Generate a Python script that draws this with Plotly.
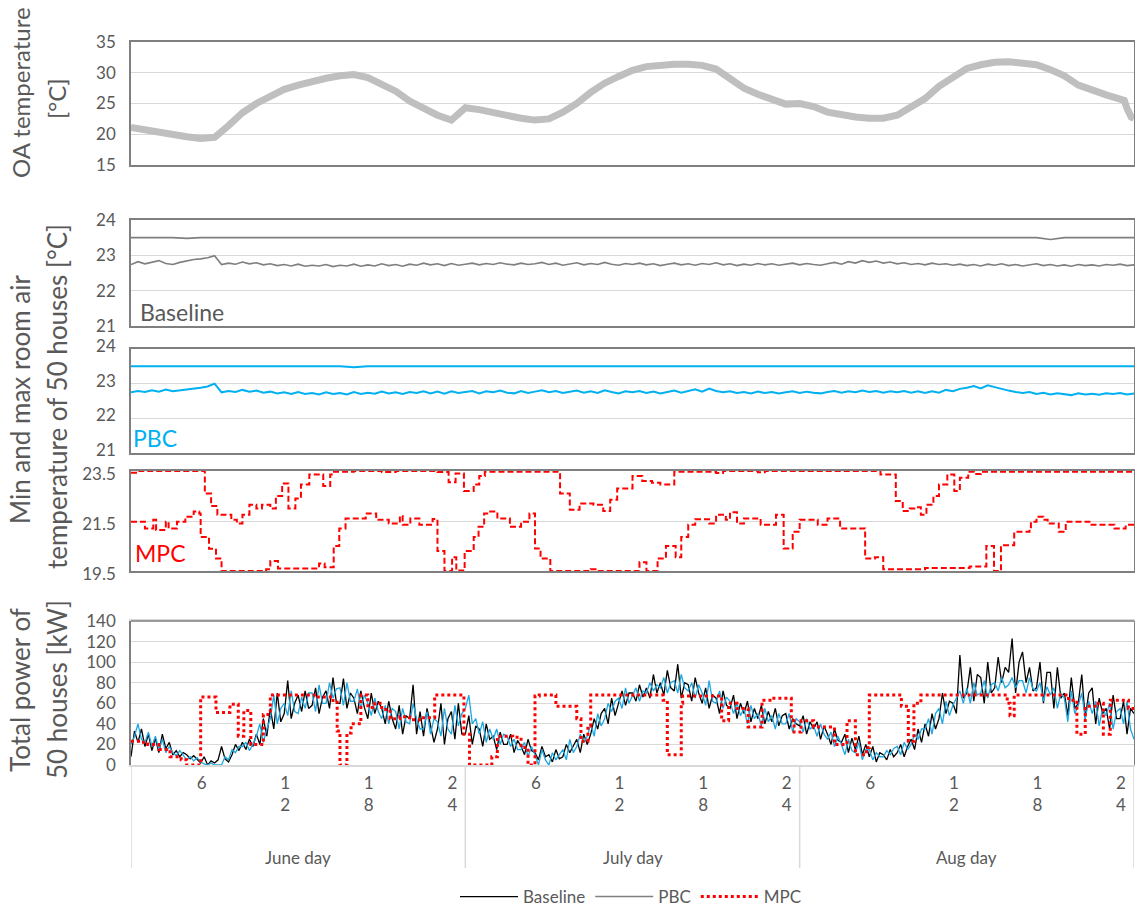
import plotly.graph_objects as go
from plotly.subplots import make_subplots

# ---------------- data ----------------
# Outdoor-air temperature (hours 0..71 + end points)
oa_hours = list(range(72)) + [71.3, 71.5, 71.8, 72]
oa_temp = [21.1, 20.7, 20.2, 19.9, 19.6, 19.3, 19.5, 21.4, 23.5, 25.0,
           26.3, 27.3, 28.0, 28.6, 29.1, 29.5, 29.7, 29.2, 28.2, 27.0,
           25.4, 24.2, 23.1, 22.3, 24.3, 24.0, 23.5, 23.0, 22.6, 22.3,
           22.5, 23.6, 25.0, 26.8, 28.3, 29.4, 30.4, 31.0, 31.3, 31.4,
           31.4, 31.2, 30.6, 29.2, 27.5, 26.5, 25.6, 24.9, 25.0, 24.5,
           23.6, 23.1, 22.8, 22.6, 22.6, 23.1, 24.3, 25.8, 27.8, 29.4,
           30.7, 31.3, 31.7, 31.8, 31.6, 31.3, 30.5, 29.5, 28.0, 27.1,
           26.4, 25.7, 25.5, 24.2, 22.8, 22.6]

hours_hourly = list(range(73))
hours_half = [i / 2 for i in range(145)]
hours_quarter = [i / 4 for i in range(289)]

base_max = [23.50, 23.49, 23.50, 23.50, 23.48, 23.50, 23.50, 23.50, 23.49, 23.50, 23.50, 23.50, 23.50, 23.49, 23.50, 23.50, 23.50, 23.50, 23.48, 23.50,
            23.50, 23.50, 23.49, 23.50, 23.50, 23.50, 23.50, 23.50, 23.49, 23.50, 23.50, 23.50, 23.50, 23.50, 23.48, 23.50, 23.50, 23.50, 23.50, 23.49,
            23.50, 23.50, 23.50, 23.50, 23.50, 23.49, 23.50, 23.50, 23.50, 23.50, 23.50, 23.48, 23.50, 23.50, 23.50, 23.49, 23.50, 23.50, 23.50, 23.50,
            23.50, 23.50, 23.50, 23.49, 23.50, 23.50, 23.45, 23.50, 23.50, 23.49, 23.50, 23.50, 23.50]
base_min = [22.74, 22.82, 22.76, 22.80, 22.85, 22.77, 22.74, 22.80, 22.85, 22.88, 22.90, 22.93, 22.99, 22.74, 22.78, 22.75, 22.81, 22.76, 22.79, 22.73,
            22.76, 22.71, 22.74, 22.70, 22.75, 22.69, 22.72, 22.70, 22.74, 22.68, 22.72, 22.70, 22.75, 22.69, 22.73, 22.70, 22.76, 22.71, 22.74, 22.69,
            22.75, 22.72, 22.78, 22.73, 22.76, 22.71, 22.77, 22.72, 22.75, 22.78, 22.73, 22.77, 22.74, 22.79, 22.75, 22.73, 22.78, 22.74, 22.76, 22.80,
            22.74, 22.78, 22.72, 22.76, 22.79, 22.73, 22.77, 22.74, 22.80, 22.75, 22.72, 22.77, 22.74, 22.78, 22.73, 22.76, 22.71, 22.75, 22.78, 22.73,
            22.76, 22.72, 22.77, 22.74, 22.79, 22.73, 22.76, 22.71, 22.75, 22.72, 22.77, 22.73, 22.76, 22.72, 22.75, 22.78, 22.73, 22.77, 22.74, 22.72,
            22.76, 22.80, 22.75, 22.82, 22.78, 22.85, 22.80, 22.84, 22.78, 22.81, 22.76, 22.79, 22.74, 22.77, 22.73, 22.78, 22.74, 22.76, 22.72, 22.75,
            22.71, 22.74, 22.70, 22.75, 22.72, 22.76, 22.71, 22.74, 22.70, 22.73, 22.76, 22.71, 22.74, 22.70, 22.73, 22.69, 22.74, 22.71, 22.73, 22.70,
            22.74, 22.72, 22.75, 22.71, 22.73]

pbc_max = [23.50, 23.50, 23.49, 23.50, 23.50, 23.50, 23.50, 23.50, 23.48, 23.50, 23.50, 23.49, 23.50, 23.50, 23.50, 23.50, 23.47, 23.50, 23.50, 23.50,
           23.50, 23.49, 23.50, 23.50, 23.50, 23.50, 23.50, 23.48, 23.50, 23.50, 23.50, 23.50, 23.49, 23.50, 23.50, 23.50, 23.50, 23.50, 23.50, 23.49,
           23.50, 23.50, 23.48, 23.50, 23.50, 23.50, 23.50, 23.50, 23.49, 23.50, 23.50, 23.50, 23.50, 23.50, 23.50, 23.48, 23.50, 23.50, 23.50, 23.49,
           23.50, 23.50, 23.50, 23.50, 23.50, 23.49, 23.50, 23.50, 23.50, 23.50, 23.48, 23.50, 23.50]
pbc_min = [22.75, 22.79, 22.76, 22.81, 22.77, 22.83, 22.78, 22.80, 22.84, 22.86, 22.88, 22.92, 23.00, 22.75, 22.79, 22.76, 22.82, 22.77, 22.80, 22.74,
           22.77, 22.72, 22.75, 22.70, 22.76, 22.70, 22.73, 22.69, 22.75, 22.70, 22.73, 22.69, 22.76, 22.70, 22.74, 22.71, 22.77, 22.72, 22.75, 22.70,
           22.76, 22.73, 22.78, 22.72, 22.77, 22.71, 22.78, 22.73, 22.75, 22.79, 22.72, 22.78, 22.75, 22.80, 22.74, 22.72, 22.79, 22.73, 22.77, 22.81,
           22.75, 22.79, 22.73, 22.77, 22.80, 22.74, 22.78, 22.73, 22.81, 22.76, 22.72, 22.78, 22.75, 22.79, 22.73, 22.77, 22.72, 22.76, 22.80, 22.74,
           22.78, 22.84, 22.77, 22.86, 22.79, 22.75, 22.78, 22.73, 22.76, 22.72, 22.77, 22.73, 22.76, 22.72, 22.75, 22.78, 22.73, 22.77, 22.74, 22.72,
           22.76, 22.79, 22.74, 22.78, 22.75, 22.80, 22.76, 22.79, 22.74, 22.78, 22.75, 22.79, 22.74, 22.78, 22.73, 22.78, 22.74, 22.82, 22.78, 22.85,
           22.88, 22.93, 22.86, 22.95, 22.90, 22.84, 22.80, 22.76, 22.73, 22.76, 22.70, 22.74, 22.69, 22.72, 22.70, 22.67, 22.72, 22.69, 22.71, 22.68,
           22.72, 22.70, 22.73, 22.69, 22.72]

# MPC room temperature (step change points)
mpc_max_hours = [0, 0.6, 5.3, 5.75, 6.2, 7.2, 7.6, 8.0, 8.5, 9.0, 9.4, 10.0, 10.4, 10.85, 11.3, 11.8, 12.2, 12.8, 13.8, 14.3,
                 14.5, 16.0, 18.0, 19.0, 22.0, 22.8, 23.3, 23.9, 24.6, 25.0, 25.4, 30.8, 31.5, 32.2, 33.2, 33.9, 34.4, 34.9, 36.0, 36.7,
                 37.4, 38.0, 39.0, 42.0, 42.5, 45.0, 45.5, 53.8, 54.9, 55.4, 55.9, 56.4, 56.7, 57.1, 57.6, 58.0, 58.6, 59.1, 59.5, 60.1,
                 60.5, 61.0, 72]
mpc_max = [23.43, 23.50, 22.60, 22.10, 21.75, 21.55, 21.40, 21.75, 22.15, 22.00, 22.15, 22.00, 22.50, 23.00, 22.00, 22.40, 22.96, 23.36, 22.90, 23.36,
           23.47, 23.50, 23.46, 23.50, 23.46, 23.05, 23.40, 22.70, 22.96, 23.30, 23.47, 22.60, 21.95, 22.20, 22.15, 21.90, 22.35, 22.80, 23.30, 23.10,
           23.03, 22.96, 23.47, 23.42, 23.50, 23.45, 23.50, 23.36, 22.30, 21.90, 22.00, 22.05, 21.75, 22.15, 22.50, 22.96, 23.36, 22.70, 23.23, 23.47,
           23.38, 23.47, 23.47]
mpc_min_hours = [0, 1.0, 1.6, 1.8, 2.5, 2.7, 3.3, 3.9, 4.5, 4.9, 5.0, 5.6, 6.1, 6.5, 9.7, 10.0, 10.55, 13.5, 13.9, 14.55,
                 14.95, 15.4, 16.85, 17.6, 18.5, 19.3, 19.5, 20.05, 20.7, 21.65, 22.0, 22.5, 23.05, 23.35, 23.95, 24.6, 24.95, 25.35, 25.7, 26.3,
                 27.2, 28.0, 28.6, 29.0, 29.4, 30.1, 33.0, 33.5, 36.5, 37.0, 37.8, 38.4, 39.1, 39.5, 40.0, 40.5, 41.5, 42.0, 42.7, 43.0,
                 43.5, 44.0, 45.2, 46.3, 46.85, 47.5, 48.0, 49.3, 50.0, 50.9, 52.7, 53.4, 54.0, 57.0, 60.2, 61.4, 61.95, 62.45, 63.4, 64.5,
                 64.6, 65.0, 65.5, 65.8, 66.6, 67.1, 68.8, 70.6, 71.4, 72]
mpc_min = [21.47, 21.20, 21.55, 21.14, 21.47, 21.20, 21.47, 21.67, 21.88, 21.80, 20.86, 20.39, 20.00, 19.50, 19.57, 19.90, 19.60, 19.80, 19.65, 20.50,
           21.20, 21.60, 21.80, 21.55, 21.40, 21.70, 21.35, 21.60, 21.35, 21.58, 20.30, 19.50, 20.05, 19.52, 20.30, 20.86, 21.27, 21.80, 21.88, 21.60,
           21.27, 21.47, 21.80, 20.40, 20.00, 19.50, 19.57, 19.50, 19.85, 19.50, 20.00, 20.50, 20.05, 20.86, 21.35, 21.57, 21.40, 21.75, 21.55, 21.85,
           21.40, 21.60, 21.35, 21.75, 20.40, 21.07, 21.55, 21.35, 21.60, 21.20, 20.00, 20.05, 19.57, 19.62, 19.68, 20.50, 19.50, 20.53, 21.07, 21.20,
           21.47, 21.67, 21.55, 21.40, 21.07, 21.47, 21.35, 21.20, 21.35, 21.35]

# Total power of 50 houses, kW (15-min samples)
power_baseline = [
    8, 33, 22, 35, 18, 30, 14, 26, 12, 30, 16, 22, 10, 14, 8, 12, 10, 6, 9, 5, 2, 8, 0, 4,
    2, 5, 18, 6, 3, 10, 20, 14, 22, 15, 25, 18, 30, 20, 45, 28, 55, 35, 70, 42, 50, 82, 45, 60,
    68, 52, 72, 55, 58, 75, 50, 66, 72, 55, 85, 60, 60, 84, 55, 70, 65, 50, 72, 56, 45, 70, 50, 62,
    55, 40, 62, 45, 35, 58, 30, 48, 45, 78, 30, 52, 28, 55, 40, 22, 35, 60, 20, 45, 52, 25, 60, 30,
    30, 48, 20, 38, 35, 18, 40, 25, 28, 15, 32, 20, 20, 30, 12, 24, 18, 10, 25, 14, 12, 5, 18, 8,
    10, 3, 15, 6, 8, 20, 12, 18, 25, 12, 30, 20, 30, 45, 35, 50, 55, 40, 65, 48, 60, 72, 58, 70,
    70, 62, 78, 66, 75, 65, 88, 70, 80, 68, 92, 75, 72, 98, 65, 80, 78, 62, 85, 70, 60, 75, 55, 68,
    65, 50, 72, 58, 55, 68, 45, 60, 50, 62, 42, 55, 45, 58, 40, 52, 42, 55, 38, 48, 50, 35, 45, 40,
    38, 48, 30, 42, 35, 42, 25, 38, 30, 20, 35, 24, 22, 30, 12, 26, 15, 28, 10, 20, 8, 18, 3, 12,
    10, 5, 15, 8, 12, 20, 8, 18, 25, 15, 35, 22, 40, 28, 50, 35, 45, 70, 50, 62, 60, 50, 107, 65,
    70, 95, 62, 88, 85, 60, 100, 70, 75, 105, 80, 95, 90, 123, 70, 100, 110, 80, 95, 72, 75, 100, 60, 90,
    90, 55, 95, 65, 70, 48, 85, 55, 60, 88, 45, 70, 75, 40, 65, 50, 55, 35, 68, 45, 45, 62, 30, 55,
    50]
power_pbc = [
    20, 28, 40, 25, 22, 32, 18, 28, 15, 25, 12, 18, 12, 9, 14, 10, 5, 8, 4, 7, 3, 1, 0, 2,
    0, 0, 0, 8, 5, 15, 12, 18, 18, 22, 14, 20, 28, 40, 22, 35, 45, 68, 40, 55, 60, 48, 72, 52,
    50, 66, 55, 70, 70, 52, 78, 60, 60, 80, 65, 74, 75, 58, 80, 62, 62, 74, 55, 68, 60, 48, 65, 52,
    45, 58, 40, 55, 52, 35, 55, 42, 40, 60, 45, 35, 35, 52, 30, 45, 42, 28, 55, 35, 30, 58, 38, 50,
    55, 68, 40, 45, 30, 42, 22, 35, 25, 35, 20, 30, 28, 18, 25, 15, 15, 22, 8, 18, 10, 0, 15, 5,
    0, 12, 5, 10, 15, 5, 25, 12, 18, 30, 22, 28, 40, 28, 50, 38, 45, 60, 52, 62, 65, 55, 75, 60,
    68, 75, 62, 72, 70, 80, 72, 78, 75, 85, 70, 80, 82, 70, 88, 75, 72, 80, 65, 78, 70, 58, 82, 62,
    60, 72, 55, 66, 62, 50, 60, 48, 55, 40, 58, 45, 50, 38, 55, 42, 48, 35, 50, 40, 40, 50, 32, 45,
    42, 32, 45, 35, 38, 28, 40, 30, 25, 32, 18, 28, 20, 10, 25, 14, 12, 22, 5, 15, 15, 5, 12, 8,
    8, 14, 10, 16, 18, 10, 22, 15, 20, 30, 25, 35, 35, 45, 30, 50, 55, 40, 62, 48, 58, 65, 72, 60,
    75, 60, 80, 68, 70, 82, 65, 78, 80, 72, 85, 75, 78, 85, 75, 82, 82, 70, 85, 74, 72, 80, 62, 76,
    68, 75, 55, 70, 65, 42, 72, 50, 58, 70, 45, 62, 50, 62, 38, 55, 48, 60, 35, 52, 55, 40, 62, 35,
    25]
mpc_power_hours = [0, 0.7, 1.2, 2.0, 2.8, 3.6, 4.0, 5.0, 6.1, 7.1, 7.7, 8.1, 8.6, 9.5, 10.0, 13.3, 14.5, 14.8, 15.0, 15.5,
                   15.8, 16.5, 17.0, 17.5, 18.0, 18.6, 19.3, 20.0, 21.0, 21.8, 23.9, 24.3, 25.9, 26.3, 27.4, 28.0, 28.5, 29.0, 29.3, 30.5,
                   32.0, 32.3, 32.8, 33.0, 38.2, 38.5, 39.5, 39.6, 42.4, 42.9, 43.5, 44.3, 45.3, 46.0, 47.4, 47.6, 48.1, 49.0, 50.5, 51.4,
                   52.0, 52.8, 53.0, 55.3, 55.8, 56.2, 56.7, 62.9, 63.1, 63.4, 67.3, 67.9, 68.5, 69.2, 69.8, 70.3, 71.6, 72]
mpc_power = [23, 22, 20, 15, 8, 5, 0, 66, 51, 59, 28, 53, 20, 49, 68, 66, 61, 33, 0, 31,
             40, 68, 56, 60, 54, 45, 47, 44, 46, 68, 30, 0, 8, 28, 27, 17, 0, 67, 68, 57,
             45, 23, 38, 68, 63, 10, 60, 67, 43, 60, 55, 37, 63, 65, 43, 32, 43, 37, 20, 43,
             10, 17, 68, 57, 23, 60, 68, 60, 48, 68, 63, 30, 57, 60, 30, 63, 55, 55]

hour_tick_pos = [5.07, 11.07, 17.07, 23.07, 29.07, 35.07, 41.07, 47.07, 53.07, 59.07, 65.07, 71.07]
hour_tick_text = ["6", "1<br>2", "1<br>8", "2<br>4", "6", "1<br>2", "1<br>8", "2<br>4", "6", "1<br>2", "1<br>8", "2<br>4"]
day_names = ["June day", "July day", "Aug day"]
day_centers = [12, 36, 60]
day_bounds = [0, 24, 48, 72]

# ---------------- figure ----------------
W, H = 1135, 909
FONT = "Lato, 'Open Sans', sans-serif"
GRAY_TXT = "#595959"
FRAME = "#7f7f7f"
GRID = "#d9d9d9"
BLUE = "#00b0f0"
RED = "#ff0000"


def py(p):
    return 1 - p / H


def px(p):
    return p / W


fig = make_subplots(rows=5, cols=1, shared_xaxes=True, vertical_spacing=0.01)

# panel 1: OA temperature
fig.add_trace(go.Scatter(x=oa_hours, y=oa_temp, mode="lines", line=dict(color="#bfbfbf", width=7),
                         showlegend=False, name="OA"), row=1, col=1)
# panel 2: baseline
fig.add_trace(go.Scatter(x=hours_hourly, y=base_max, mode="lines", line=dict(color=FRAME, width=1.6),
                         showlegend=False), row=2, col=1)
fig.add_trace(go.Scatter(x=hours_half, y=base_min, mode="lines", line=dict(color=FRAME, width=1.6),
                         showlegend=False), row=2, col=1)
# panel 3: PBC
fig.add_trace(go.Scatter(x=hours_hourly, y=pbc_max, mode="lines", line=dict(color=BLUE, width=2),
                         showlegend=False), row=3, col=1)
fig.add_trace(go.Scatter(x=hours_half, y=pbc_min, mode="lines", line=dict(color=BLUE, width=2),
                         showlegend=False), row=3, col=1)
# panel 4: MPC
fig.add_trace(go.Scatter(x=mpc_max_hours, y=mpc_max, mode="lines", line=dict(color=RED, width=2, dash="6px,3px", shape="hv"),
                         showlegend=False), row=4, col=1)
fig.add_trace(go.Scatter(x=mpc_min_hours, y=mpc_min, mode="lines", line=dict(color=RED, width=2, dash="6px,3px", shape="hv"),
                         showlegend=False), row=4, col=1)
# panel 5: power
fig.add_trace(go.Scatter(x=hours_quarter, y=power_baseline, mode="lines", line=dict(color="#000000", width=1.3),
                         name="Baseline", legendrank=1), row=5, col=1)
fig.add_trace(go.Scatter(x=hours_quarter, y=power_pbc, mode="lines", line=dict(color="#1ea7e1", width=1.3),
                         showlegend=False, name="PBC"), row=5, col=1)
fig.add_trace(go.Scatter(x=[None], y=[None], mode="lines", line=dict(color="#808080", width=1.5),
                         name="PBC", legendrank=2), row=5, col=1)
fig.add_trace(go.Scatter(x=mpc_power_hours, y=mpc_power, mode="lines", line=dict(color=RED, width=3, dash="dot", shape="hv"),
                         name="MPC", legendrank=3), row=5, col=1)

domains = [(165, 42), (326, 220), (453, 349), (571, 471), (765, 621)]
yranges = [[15, 35], [21, 24], [21, 24], [19.5, 23.5], [0, 140]]
ytickvals = [[15, 20, 25, 30, 35], [21, 22, 23, 24], [21, 22, 23, 24], [19.5, 21.5, 23.5],
             [0, 20, 40, 60, 80, 100, 120, 140]]
yticktext = [["15", "20", "25", "30", "35"], ["21", "22", "23", "24"], ["21", "22", "23", "24"],
             ["19.5", "21.5", "23.5"], ["0", "20", "40", "60", "80", "100", "120", "140"]]
label_shift = [0, 0, -3, 3, 0]

for i in range(5):
    r = i + 1
    fig.update_yaxes(row=r, col=1, domain=[py(domains[i][0]), py(domains[i][1])], range=yranges[i],
                     tickvals=ytickvals[i], ticktext=yticktext[i], showgrid=True, gridcolor=GRID, gridwidth=1,
                     zeroline=False, showline=True, mirror=True, linecolor=FRAME, linewidth=1.5,
                     ticks="", ticklabelstandoff=10, ticklabelshift=label_shift[i],
                     tickfont=dict(family=FONT, size=17, color=GRAY_TXT))
    fig.update_xaxes(row=r, col=1, domain=[px(131), px(1134)], range=[0, 72], showgrid=False, zeroline=False,
                     showline=True, mirror=True, linecolor=FRAME, linewidth=1.5, ticks="",
                     showticklabels=(r == 5))

fig.update_xaxes(row=5, col=1, tickvals=hour_tick_pos, ticktext=hour_tick_text, linecolor=GRID,
                 tickfont=dict(family=FONT, size=17, color=GRAY_TXT), ticklabelstandoff=2)

shapes = []
# dark top border on power panel
shapes.append(dict(type="line", xref="paper", yref="paper", x0=px(131), x1=px(1134), y0=py(621), y1=py(621),
                   line=dict(color=FRAME, width=1.5)))
for b in day_bounds:
    shapes.append(dict(type="line", xref="x5", yref="paper", x0=b, x1=b, y0=py(765), y1=py(868),
                       line=dict(color=GRID, width=1.5)))

annotations = []
for c, name in zip(day_centers, day_names):
    annotations.append(dict(x=c, xref="x5", y=py(857), yref="paper", text=name, showarrow=False,
                            font=dict(family=FONT, size=17, color=GRAY_TXT), xanchor="center", yanchor="middle"))

titles = [("OA temperature", 20, 93, 24), ("[°C]", 57, 99, 24),
          ("Min and max room air", 20, 399, 26), ("temperature of 50 houses [°C]", 57, 397, 26),
          ("Total power of", 20, 690, 26), ("50 houses [kW]", 57, 690, 26)]
for t, xx, yy, fs in titles:
    annotations.append(dict(x=px(xx), y=py(yy), xref="paper", yref="paper", text=t, textangle=-90,
                            showarrow=False, font=dict(family=FONT, size=fs, color=GRAY_TXT),
                            xanchor="center", yanchor="middle"))

annotations.append(dict(x=px(138), y=py(312), xref="paper", yref="paper", text="Baseline", showarrow=False,
                        font=dict(family=FONT, size=23, color=GRAY_TXT), xanchor="left", yanchor="middle"))
annotations.append(dict(x=px(131), y=py(438), xref="paper", yref="paper", text="PBC", showarrow=False,
                        font=dict(family=FONT, size=23, color=BLUE), xanchor="left", yanchor="middle"))
annotations.append(dict(x=px(133), y=py(553), xref="paper", yref="paper", text="MPC", showarrow=False,
                        font=dict(family=FONT, size=23, color=RED), xanchor="left", yanchor="middle"))

fig.update_layout(
    width=W, height=H, margin=dict(l=0, r=0, t=0, b=0, autoexpand=False),
    paper_bgcolor="white", plot_bgcolor="white",
    font=dict(family=FONT, color=GRAY_TXT),
    shapes=shapes, annotations=annotations,
    legend=dict(orientation="h", x=px(455), xanchor="left", y=py(897), yanchor="middle",
                itemwidth=58, font=dict(family=FONT, size=17, color=GRAY_TXT), bgcolor="rgba(0,0,0,0)"),
)

fig.write_html("out.html")
